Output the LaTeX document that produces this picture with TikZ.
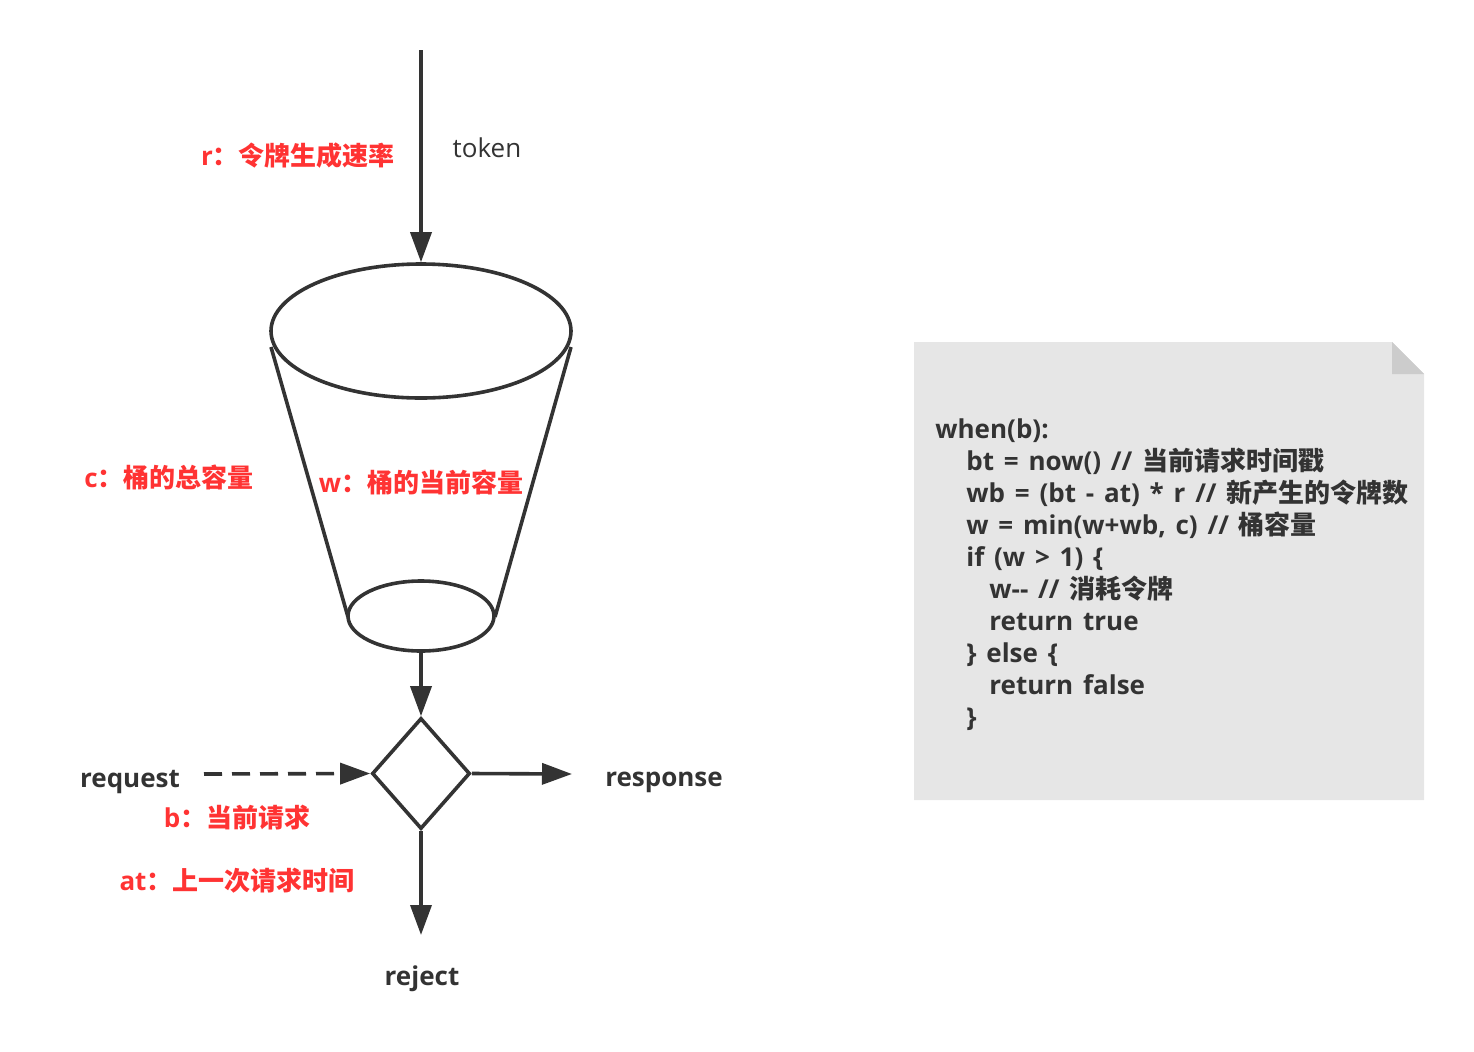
\documentclass[tikz,border=0pt]{standalone}
\usepackage{fontspec}
\setmainfont{Open Sans}
\newfontfamily\cjk{Noto Sans CJK SC}
\usetikzlibrary{shapes.geometric,arrows.meta}
\definecolor{ink}{HTML}{333333}
\definecolor{redlab}{HTML}{FF3333}
\definecolor{notefill}{HTML}{E6E6E6}
\definecolor{foldfill}{HTML}{CCCCCC}
\newcommand\zh[1]{{\cjk\bfseries #1}}
\newcommand\codefont{\fontsize{13pt}{16pt}\selectfont\bfseries\spaceskip=4.9pt plus 1pt\relax}
\tikzset{
  conn/.style={draw=ink, line width=1.8pt, -{Triangle[length=15pt,width=10.5pt]}},
  shp/.style={draw=ink, line width=1.8pt, inner sep=0pt},
  lab/.style={text=ink, font=\fontsize{13pt}{16pt}\selectfont\bfseries, inner sep=0pt},
  redl/.style={text=redlab, font=\fontsize{13pt}{16pt}\selectfont\bfseries, inner sep=0pt},
  codel/.style={text=ink, font=\codefont, inner sep=0pt, anchor=base west},
}
\begin{document}
\begin{tikzpicture}[x=0.5pt,y=-0.5pt]
\useasboundingbox (0,0) rectangle (1474,1051);
% bucket
\coordinate (tokstart) at (421,50);
\node[shp, ellipse, minimum width=150pt, minimum height=67pt] (top) at (421,331) {};
\node[shp, ellipse, minimum width=73pt, minimum height=35pt] (bot) at (421,616) {};
\coordinate (tl) at (271,347);
\coordinate (tr) at (571,347);
\coordinate (bl) at (348,617);
\coordinate (br) at (495,617);
\draw[ink, line width=1.8pt] (tl) -- (bl);
\draw[ink, line width=1.8pt] (tr) -- (br);
\draw[conn] (tokstart) -- (top.north);
% decision
\node[shp, diamond, minimum width=49pt, minimum height=55.5pt] (dec) at (421,773.5) {};
\draw[conn] (bot.south) -- (dec.north);
\coordinate (reqend) at (204,774);
\coordinate (respend) at (572,774);
\coordinate (rejend) at (421,935);
\draw[conn, dash pattern=on 9pt off 5pt] (reqend) -- (dec.west);
\draw[conn] (dec.east) -- (respend);
\draw[conn] (dec.south) -- (rejend);
% labels
\node[text=ink, font=\fontsize{13pt}{16pt}\selectfont, inner sep=0pt] (token) at (487,148) {token};
\node[lab] (request) at (130,782) {request};
\node[lab] (response) at (664,782) {response};
\node[lab] (reject) at (422,979) {reject};
\node[redl] (rlab) at (298,156) {r\zh{：令牌生成速率}};
\node[redl] (clab) at (169,477) {c\zh{：桶的总容量}};
\node[redl] (wlab) at (421,482) {w\zh{：桶的当前容量}};
\node[redl] (blab) at (237,818) {b\zh{：当前请求}};
\node[redl] (atlab) at (237,881) {at\zh{：上一次请求时间}};
% note
\fill[notefill] (914,342) -- (1392,342) -- (1424,374) -- (1424,800) -- (914,800) -- cycle;
\fill[foldfill] (1392,342) -- (1392,374) -- (1424,374) -- cycle;
\node[codel] (c1) at (935,438) {when(b):};
\node[codel] (c2) at (966,470) {bt = now() // \zh{当前请求时间戳}};
\node[codel] (c3) at (966,502) {wb = (bt - at) * r // \zh{新产生的令牌数}};
\node[codel] (c4) at (966,534) {w = min(w+wb, c) // \zh{桶容量}};
\node[codel] (c5) at (966,566) {if (w > 1) \{};
\node[codel] (c6) at (989,598) {w-{}- // \zh{消耗令牌}};
\node[codel] (c7) at (989,630) {return true};
\node[codel] (c8) at (966,662) {\} else \{};
\node[codel] (c9) at (989,694) {return false};
\node[codel] (c10) at (966,726) {\}};
\end{tikzpicture}
\end{document}
